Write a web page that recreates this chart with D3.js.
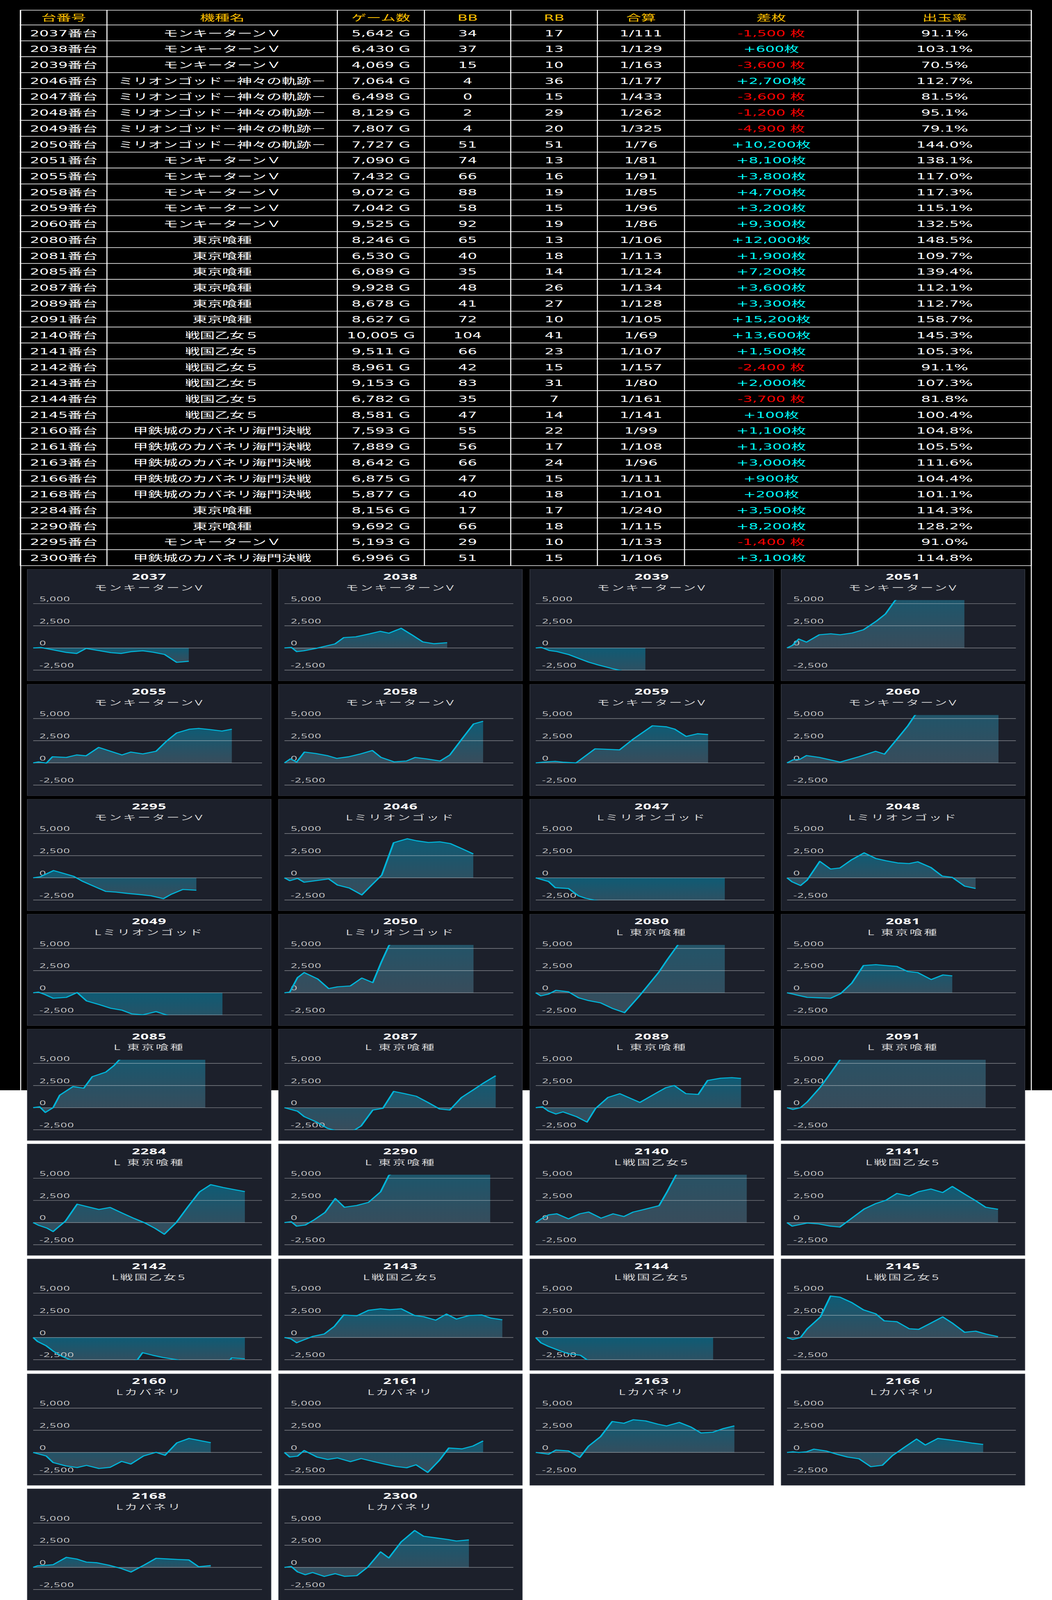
<!DOCTYPE html>
<html>
<head>
<meta charset="utf-8">
<script src="https://cdn.jsdelivr.net/npm/d3@7"></script>
<style>
  html, body { margin: 0; padding: 0; background: #fff; overflow: hidden; }
  svg { display: block; width: 100vw; height: 100vh; }
</style>
</head>
<body>
<div id="chart"></div>
<script>
// ---- table data ----
var headers = ["台番号", "機種名", "ゲーム数", "BB", "RB", "合算", "差枚", "出玉率"];
var machineNo = [2037, 2038, 2039, 2046, 2047, 2048, 2049, 2050, 2051, 2055, 2058, 2059, 2060,
  2080, 2081, 2085, 2087, 2089, 2091, 2140, 2141, 2142, 2143, 2144, 2145,
  2160, 2161, 2163, 2166, 2168, 2284, 2290, 2295, 2300];
var MONKEY = "モンキーターンＶ", MILLION = "ミリオンゴッド－神々の軌跡－", TOKYO = "東京喰種",
    SENGOKU = "戦国乙女５", KABANERI = "甲鉄城のカバネリ海門決戦";
var machineName = [MONKEY, MONKEY, MONKEY, MILLION, MILLION, MILLION, MILLION, MILLION,
  MONKEY, MONKEY, MONKEY, MONKEY, MONKEY, TOKYO, TOKYO, TOKYO, TOKYO, TOKYO, TOKYO,
  SENGOKU, SENGOKU, SENGOKU, SENGOKU, SENGOKU, SENGOKU,
  KABANERI, KABANERI, KABANERI, KABANERI, KABANERI, TOKYO, TOKYO, MONKEY, KABANERI];
var games = [5642, 6430, 4069, 7064, 6498, 8129, 7807, 7727, 7090, 7432, 9072, 7042, 9525,
  8246, 6530, 6089, 9928, 8678, 8627, 10005, 9511, 8961, 9153, 6782, 8581,
  7593, 7889, 8642, 6875, 5877, 8156, 9692, 5193, 6996];
var bb = [34, 37, 15, 4, 0, 2, 4, 51, 74, 66, 88, 58, 92, 65, 40, 35, 48, 41, 72,
  104, 66, 42, 83, 35, 47, 55, 56, 66, 47, 40, 17, 66, 29, 51];
var rb = [17, 13, 10, 36, 15, 29, 20, 51, 13, 16, 19, 15, 19, 13, 18, 14, 26, 27, 10,
  41, 23, 15, 31, 7, 14, 22, 17, 24, 15, 18, 17, 18, 10, 15];
var combined = [111, 129, 163, 177, 433, 262, 325, 76, 81, 91, 85, 96, 86, 106, 113, 124, 134, 128, 105,
  69, 107, 157, 80, 161, 141, 99, 108, 96, 111, 101, 240, 115, 133, 106];
var diff = [-1500, 600, -3600, 2700, -3600, -1200, -4900, 10200, 8100, 3800, 4700, 3200, 9300,
  12000, 1900, 7200, 3600, 3300, 15200, 13600, 1500, -2400, 2000, -3700, 100,
  1100, 1300, 3000, 900, 200, 3500, 8200, -1400, 3100];
var rate = [91.1, 103.1, 70.5, 112.7, 81.5, 95.1, 79.1, 144.0, 138.1, 117.0, 117.3, 115.1, 132.5,
  148.5, 109.7, 139.4, 112.1, 112.7, 158.7, 145.3, 105.3, 91.1, 107.3, 81.8, 100.4,
  104.8, 105.5, 111.6, 104.4, 101.1, 114.3, 128.2, 91.0, 114.8];

// ---- panel data: [progress %, 差枚] ----
var panelOrder = [2037, 2038, 2039, 2051, 2055, 2058, 2059, 2060, 2295, 2046, 2047, 2048,
  2049, 2050, 2080, 2081, 2085, 2087, 2089, 2091, 2284, 2290, 2140, 2141,
  2142, 2143, 2144, 2145, 2160, 2161, 2163, 2166, 2168, 2300];
var panelName = ["モンキーターンV", "モンキーターンV", "モンキーターンV", "モンキーターンV",
  "モンキーターンV", "モンキーターンV", "モンキーターンV", "モンキーターンV",
  "モンキーターンV", "Lミリオンゴッド", "Lミリオンゴッド", "Lミリオンゴッド",
  "Lミリオンゴッド", "Lミリオンゴッド", "L 東京喰種", "L 東京喰種",
  "L 東京喰種", "L 東京喰種", "L 東京喰種", "L 東京喰種",
  "L 東京喰種", "L 東京喰種", "L戦国乙女5", "L戦国乙女5",
  "L戦国乙女5", "L戦国乙女5", "L戦国乙女5", "L戦国乙女5",
  "Lカバネリ", "Lカバネリ", "Lカバネリ", "Lカバネリ", "Lカバネリ", "Lカバネリ"];
var yTicks = [5000, 2500, 0, -2500];

var s2037 = [[0,0],[3.5,50],[8.4,-200],[14.5,-500],[19.0,-620],[23.1,-50],[28.2,-270],[33.9,-530],[38.5,-620],[43.1,-410],[47.9,-320],[52.5,-480],[57.4,-730],[62.7,-1620],[68.0,-1500]];
var s2038 = [[0,0],[3.0,70],[5.3,-410],[8.4,-320],[13.7,-50],[22.1,460],[25.9,1170],[31.2,1260],[37.3,1600],[41.9,1880],[45.7,1670],[51.0,2220],[55.6,1490],[60.4,690],[65.4,480],[71.1,600]];
var s2039 = [[0,0],[2.4,70],[5.9,-280],[9.3,-410],[14.6,-760],[18.4,-1140],[23.1,-1600],[27.6,-1940],[33.5,-2330],[37.5,-2560],[42.9,-3100],[47.9,-3600]];
var s2051 = [[0,0],[2.4,300],[5.1,1010],[8.5,660],[14.1,1490],[19.1,1600],[23.2,1490],[28.5,1690],[33.4,2060],[36.1,2520],[39.2,3060],[43.0,3840],[47.2,5350],[52.8,6400],[60.4,7200],[68.0,7700],[77.5,8100]];
var s2055 = [[0,0],[2.3,115],[5.8,-20],[8.4,690],[14.5,620],[19.0,900],[23.1,800],[28.6,1750],[33.9,1310],[38.8,900],[42.6,1220],[47.9,1010],[53.7,1310],[58.3,2460],[62.7,3380],[68.2,3800],[72.3,3890],[76.9,3770],[82.5,3590],[86.8,3800]];
var s2058 = [[0,0],[2.6,460],[5.3,90],[8.7,1220],[13.7,1060],[19.0,800],[22.8,510],[28.0,690],[32.9,990],[38.4,1400],[42.2,620],[47.9,120],[53.3,210],[57.1,620],[62.4,440],[68.0,210],[72.3,900],[77.2,2580],[82.6,4390],[86.8,4700]];
var s2059 = [[0,0],[3.2,90],[8.5,180],[12.3,70],[17.6,0],[25.9,1590],[36.6,1470],[42.6,2690],[51.0,4190],[57.1,4070],[60.8,3800],[65.7,2990],[70.7,3290],[75.3,3200]];
var s2060 = [[0,0],[2.7,350],[5.5,390],[8.5,830],[14.1,620],[18.7,350],[23.2,90],[31.6,710],[38.7,1310],[42.6,990],[47.5,2510],[52.8,4190],[55.8,5340],[62,7000],[72,8500],[82,9000],[92.4,9300]];
var s2295 = [[0,0],[3.1,120],[8.9,820],[13.3,500],[17.7,170],[21.4,-370],[25.8,-870],[31.7,-1530],[36.1,-1610],[41.2,-1760],[46.3,-1880],[51.5,-2030],[56.9,-2350],[60.3,-1860],[65.4,-1310],[71.3,-1400]];
var s2046 = [[0,0],[2.3,-320],[5.7,-70],[8.6,-500],[13.7,-320],[19.3,-120],[23.2,-820],[28.4,-1160],[33.8,-1930],[37.9,-870],[42.5,300],[47.7,3960],[53.7,4410],[57.7,4180],[62.9,3990],[67.8,4060],[72.4,3870],[77.5,3290],[82.5,2700]];
var s2047 = [[0,0],[5.6,-420],[8.5,-1110],[14.3,-1210],[18.7,-2030],[21.7,-2300],[25.3,-2500],[35,-2900],[50,-3300],[65,-3500],[82.6,-3600]];
var s2048 = [[0,0],[2.2,-450],[5.9,-870],[8.8,-250],[14.3,1860],[19.0,990],[23.1,1110],[28.3,2050],[33.7,2820],[38.8,2180],[43.2,1930],[48.3,1680],[53.4,1610],[57.1,1810],[62.9,1160],[67.8,200],[72.2,50],[77.6,-940],[82.4,-1200]];
var s2049 = [[0,0],[2.3,70],[5.3,-220],[8.7,-620],[14.5,-520],[19.2,20],[23.3,-920],[28.9,-1340],[34.0,-1760],[38.7,-1960],[43.0,-2380],[47.8,-2500],[53.7,-2130],[58.8,-2550],[66,-3300],[74,-4200],[82.7,-4900]];
var s2050 = [[0,0],[2.3,70],[5.7,1710],[8.6,2280],[14.5,1560],[19.3,470],[23.2,670],[28.8,770],[33.8,1660],[38.6,1140],[42.3,3440],[45.6,5300],[52,7000],[62,8800],[72,9700],[82.6,10200]];
var s2080 = [[0,0],[2.2,-350],[5.6,-150],[8.8,270],[14.3,100],[18.7,-570],[23.1,-890],[28.3,-1140],[33.4,-1760],[38.8,-2250],[45.1,-420],[53.8,2330],[57.5,3740],[61.9,5320],[68,7500],[76,10000],[82.6,12000]];
var s2081 = [[0,0],[3.7,-220],[8.8,-520],[13.9,-570],[19.0,-620],[23.4,-100],[28.3,1090],[33.4,3070],[38.8,3170],[43.2,3070],[48.0,2970],[52.7,2400],[57.1,2280],[63.0,1490],[68.1,2010],[72.2,1900]];
var s2085 = [[0,0],[2.8,100],[5.3,-540],[8.7,0],[11.6,1410],[17.4,2380],[22.1,2200],[25.8,3490],[31.7,4010],[35.3,4750],[37.5,5370],[45,6300],[60,6900],[75.2,7200]];
var s2087 = [[0,0],[5.7,-400],[8.6,-1010],[13.7,-1580],[18.8,-2330],[22,-2560],[26,-2600],[30.4,-2560],[33.5,-2060],[38.6,-270],[43.0,-70],[47.7,1830],[52.5,1580],[57.6,1290],[62.7,590],[67.8,-150],[72.2,-270],[77.3,1140],[82.5,2010],[86.8,2750],[92.3,3600]];
var s2089 = [[0,0],[2.9,100],[5.6,-400],[8.8,-720],[11.9,-470],[18.0,-1040],[22.4,-1630],[26.1,-100],[31.6,1160],[36.7,1580],[45.5,590],[51.7,1510],[56.8,2250],[60.5,2500],[65.6,1580],[71.0,1490],[75.1,3070],[80.7,3320],[85.7,3390],[89.7,3300]];
var s2091 = [[0,0],[2.5,-200],[5.9,0],[8.8,640],[14.6,2330],[19.0,3890],[23.0,5350],[30,7500],[45,11000],[60,13500],[75,14800],[86.8,15200]];
var s2284 = [[0,0],[2.3,-300],[6.0,-620],[8.7,-1010],[14.1,170],[19.2,2080],[23.9,1780],[28.7,1480],[33.6,1710],[39.0,1060],[44.1,470],[48.5,0],[53.2,-640],[57.3,-1310],[62.5,0],[67.6,1780],[72.7,3470],[77.6,4280],[83.0,3960],[88.1,3710],[92.5,3500]];
var s2290 = [[0,0],[2.9,100],[5.3,-400],[9.1,-270],[13.0,320],[17.7,1140],[22.2,2720],[26.2,1730],[31.6,1930],[36.7,2280],[42.0,3470],[45.6,5320],[55,6800],[70,7800],[89.9,8200]];
var s2140 = [[0,0],[2.6,450],[5.6,870],[9.2,990],[14.3,420],[19.2,990],[23.1,1190],[28.5,500],[33.8,990],[38.5,690],[42.6,1190],[47.3,1480],[53.9,1910],[57.5,3520],[61.2,5320],[68,9000],[78,12000],[92.2,13600]];
var s2141 = [[0,0],[2.2,-400],[8.8,-50],[13.9,-150],[19.0,-400],[23.1,-500],[28.3,500],[33.7,1530],[38.8,2150],[43.2,2520],[48.0,3290],[53.4,3000],[57.5,3490],[62.9,3790],[68.0,3390],[72.2,4080],[77.6,3220],[82.4,2480],[86.8,1730],[92.2,1500]];
var s2142 = [[0,0],[1.9,-450],[5.7,-940],[8.9,-1560],[12.6,-2130],[16.3,-2520],[22,-2900],[30,-3100],[38,-2900],[45.6,-2500],[47.8,-1710],[52.2,-2000],[56.6,-2250],[63.2,-2520],[70,-2900],[78,-2800],[86.0,-2550],[86.7,-2300],[92.5,-2400]];
var s2143 = [[0,0],[2.8,-150],[5.3,-590],[8.6,-250],[12.3,120],[17.4,400],[21.8,1260],[25.9,2550],[31.6,2450],[36.7,3070],[42.0,3240],[45.9,3140],[51.0,3240],[56.9,2480],[60.8,2350],[66.1,1960],[70.8,2650],[75.1,2080],[80.6,2480],[86.1,2550],[90.1,2200],[95.2,2000]];
var s2144 = [[0,0],[2.2,-590],[5.6,-1010],[10.7,-1510],[14.3,-1830],[19.5,-2000],[22.4,-2520],[35,-3200],[55,-3600],[77.5,-3700]];
var s2145 = [[0,0],[2.5,-220],[5.9,0],[8.8,970],[14.6,2330],[19.0,4680],[23.1,4550],[28.3,3940],[33.4,3120],[38.8,2670],[42.5,1880],[48.0,1780],[53.4,990],[57.5,920],[62.9,1630],[68.0,2330],[72.5,1580],[77.6,590],[82.4,720],[86.8,400],[92.2,100]];
var s2160 = [[0,0],[5.7,-400],[8.7,-1140],[14.1,-1510],[19.2,-1710],[23.3,-1460],[28.7,-1810],[33.6,-1680],[38.6,-1010],[42.7,-1310],[48.2,-400],[53.7,20],[57.6,-320],[62.8,1090],[68.1,1580],[77.6,1100]];
var s2161 = [[0,0],[2.3,-520],[5.7,-420],[8.6,220],[14.2,-520],[18.9,-790],[23.2,-620],[28.8,-1040],[33.5,-690],[38.6,-1010],[43.7,-1310],[48.5,-1580],[53.4,-1730],[57.5,-1390],[62.6,-2250],[67.7,-890],[71.8,500],[77.6,400],[82.3,720],[86.8,1300]];
var s2163 = [[0,0],[5.6,-200],[8.8,270],[14.3,170],[19.2,-570],[23.1,720],[28.3,1780],[33.4,3490],[38.5,3290],[42.6,3690],[48.0,3560],[53.4,3190],[57.2,2990],[62.7,3390],[67.8,2870],[72.2,2200],[77.3,2280],[82.1,2700],[86.8,3000]];
var s2166 = [[0,0],[2.6,70],[5.1,0],[8.5,70],[11.7,370],[17.3,150],[22.0,-220],[26.4,-520],[31.5,-720],[36.6,-1610],[41.7,-1440],[46.1,-350],[51.2,570],[56.6,1510],[60.4,840],[65.9,1580],[71.3,1410],[76.9,1210],[81.3,1040],[85.7,900]];
var s2168 = [[0,0],[1.9,180],[5.3,230],[8.7,300],[14.5,1130],[19.2,930],[23.3,590],[27.9,520],[33.1,240],[38.5,-130],[42.7,-530],[48.5,260],[53.7,1020],[58.8,950],[63.2,890],[68.0,840],[72.3,70],[77.6,200]];
var s2300 = [[0,0],[2.9,110],[5.7,-510],[9.1,-830],[12.3,-580],[17.4,-1020],[22.2,-710],[26.2,-1010],[31.6,-940],[36.4,30],[42.0,1750],[45.6,1060],[51.0,2870],[56.9,4160],[60.8,3510],[66.4,3320],[71.5,3140],[75.1,2970],[80.6,3100]];

var seriesById = {
  2037: s2037, 2038: s2038, 2039: s2039, 2051: s2051, 2055: s2055, 2058: s2058, 2059: s2059,
  2060: s2060, 2295: s2295, 2046: s2046, 2047: s2047, 2048: s2048, 2049: s2049, 2050: s2050,
  2080: s2080, 2081: s2081, 2085: s2085, 2087: s2087, 2089: s2089, 2091: s2091, 2284: s2284,
  2290: s2290, 2140: s2140, 2141: s2141, 2142: s2142, 2143: s2143, 2144: s2144, 2145: s2145,
  2160: s2160, 2161: s2161, 2163: s2163, 2166: s2166, 2168: s2168, 2300: s2300
};

var W = 2694, H = 7053;
// the page is laid out in a fixed 2694x7053 space and stretched to fill the window
var svg = d3.select("#chart").append("svg")
  .attr("viewBox", "0 0 " + W + " " + H)
  .attr("preserveAspectRatio", "none");

// black page area up to where the container ends
svg.append("rect").attr("x", 0).attr("y", 0).attr("width", W).attr("height", 4806).attr("fill", "#000");

var defs = svg.append("defs");
var grad = defs.append("linearGradient").attr("id", "areaGrad")
  .attr("x1", 0).attr("y1", 0).attr("x2", 0).attr("y2", 1);
grad.append("stop").attr("offset", "0%").attr("stop-color", "rgb(0,150,190)").attr("stop-opacity", 0.5);
grad.append("stop").attr("offset", "100%").attr("stop-color", "rgb(90,130,150)").attr("stop-opacity", 0.45);

// ---- table ----
var colEdges = [52, 274, 864, 1087, 1308, 1530, 1753, 2197, 2641];
var tableTop = 45, headH = 65, rowH = 70.1;
var fmt = d3.formatLocale({ decimal: ".", thousands: ",", grouping: [3], currency: ["", ""], minus: "-" }).format(",");
var font = "'DejaVu Sans', 'Noto Sans CJK JP', sans-serif";

var rows = machineNo.map(function(n, i) {
  var d = diff[i];
  return [
    { t: n + "番台", c: "#fff" },
    { t: machineName[i], c: "#fff" },
    { t: fmt(games[i]) + " G", c: "#fff" },
    { t: String(bb[i]), c: "#fff" },
    { t: String(rb[i]), c: "#fff" },
    { t: "1/" + combined[i], c: "#fff" },
    { t: d >= 0 ? "+" + fmt(d) + "枚" : fmt(d) + " 枚", c: d >= 0 ? "#00ffff" : "#ff0000" },
    { t: rate[i].toFixed(1) + "%", c: "#fff" }
  ];
});
rows.unshift(headers.map(function(h) { return { t: h, c: "#ffc000" }; }));

var table = svg.append("g");
var tr = table.selectAll("g.row").data(rows).enter().append("g")
  .attr("transform", function(d, i) {
    var y = i === 0 ? tableTop : tableTop + headH + (i - 1) * rowH;
    return "translate(0," + y + ")";
  });
tr.each(function(r, i) {
  var h = i === 0 ? headH : rowH;
  var g = d3.select(this);
  g.selectAll("rect").data(r).enter().append("rect")
    .attr("x", function(d, j) { return colEdges[j]; })
    .attr("y", 0)
    .attr("width", function(d, j) { return colEdges[j + 1] - colEdges[j]; })
    .attr("height", h)
    .attr("fill", "#000")
    .attr("stroke", "#fff")
    .attr("stroke-width", 2.5);
  g.selectAll("text").data(r).enter().append("text")
    .attr("x", function(d, j) { return (colEdges[j] + colEdges[j + 1]) / 2; })
    .attr("y", h / 2 + 1)
    .attr("text-anchor", "middle")
    .attr("dominant-baseline", "central")
    .style("font-family", font)
    .style("font-size", "38px")
    .attr("fill", function(d) { return d.c; })
    .text(function(d) { return d.t; });
});

// container side borders
[53, 2641].forEach(function(x) {
  svg.append("line").attr("x1", x).attr("x2", x).attr("y1", tableTop).attr("y2", 4806)
    .attr("stroke", "#fff").attr("stroke-width", 2.5);
});

// ---- panels ----
var panelW = 624, panelH = 491, px0 = 70, pstepX = 643.5, py0 = 2510, pstepY = 506.6;
var x = d3.scaleLinear().domain([0, 100]).range([15, 601]);
var y = d3.scaleLinear().domain([-2500, 5000]).range([444, 151]);
var area = d3.area().x(function(d) { return x(d[0]); }).y0(y(0)).y1(function(d) { return y(d[1]); });
var line = d3.line().x(function(d) { return x(d[0]); }).y(function(d) { return y(d[1]); });

var pfont = "'Open Sans', 'Noto Sans CJK JP', sans-serif";

panelOrder.forEach(function(id, k) {
  var col = k % 4, row = Math.floor(k / 4);
  var g = svg.append("g")
    .attr("transform", "translate(" + (px0 + col * pstepX) + "," + (py0 + row * pstepY) + ")");

  g.append("rect").attr("width", panelW).attr("height", panelH)
    .attr("fill", "#1c202b").attr("stroke", "#3a3e48").attr("stroke-width", 1.5);

  g.append("text").attr("x", panelW / 2).attr("y", 31)
    .attr("text-anchor", "middle").attr("dominant-baseline", "central")
    .style("font-family", pfont).style("font-size", "37px").style("font-weight", 700)
    .style("letter-spacing", "1px")
    .attr("fill", "#fff").text(id);

  g.append("text").attr("x", panelW / 2).attr("y", 80)
    .attr("text-anchor", "middle").attr("dominant-baseline", "central")
    .style("font-family", pfont).style("font-size", "33px").style("letter-spacing", "4px")
    .attr("fill", "#d6d6d6").text(panelName[k]);

  var clipId = "clip" + id;
  g.append("clipPath").attr("id", clipId).append("rect")
    .attr("x", 0).attr("y", y(5400)).attr("width", panelW).attr("height", y(-2500) + 1 - y(5400));

  var data = seriesById[id];
  g.append("path").datum(data).attr("d", area)
    .attr("fill", "url(#areaGrad)").attr("clip-path", "url(#" + clipId + ")");

  g.selectAll("line.grid").data(yTicks).enter().append("line")
    .attr("x1", x(0)).attr("x2", x(100))
    .attr("y1", function(d) { return y(d); }).attr("y2", function(d) { return y(d); })
    .attr("stroke", "rgba(255,255,255,0.45)").attr("stroke-width", 2.5);

  g.selectAll("text.tick").data(yTicks).enter().append("text")
    .attr("x", 31).attr("y", function(d) { return y(d) - 11; })
    .style("font-family", pfont).style("font-size", "29px").style("letter-spacing", "1px")
    .attr("fill", "#c8c8c8").text(function(d) { return fmt(d); });

  g.append("path").datum(data).attr("d", line)
    .attr("fill", "none").attr("stroke", "#00b4d8").attr("stroke-width", 4.5)
    .attr("stroke-linejoin", "round").attr("clip-path", "url(#" + clipId + ")");
});
</script>
</body>
</html>
